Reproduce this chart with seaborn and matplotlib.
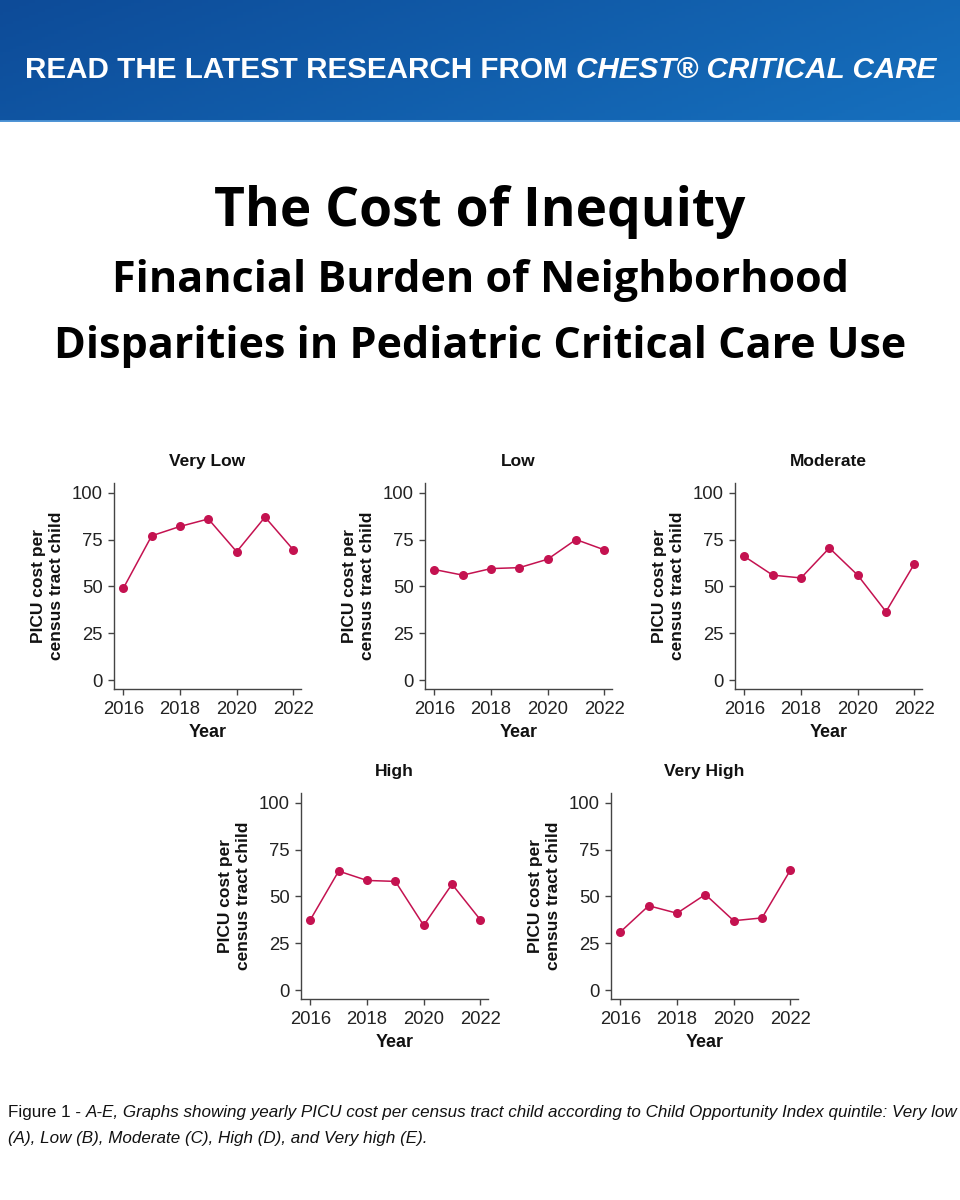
import numpy as np
import pandas as pd
import matplotlib
matplotlib.use('Agg')
import matplotlib.pyplot as plt
import seaborn as sns
from matplotlib import font_manager

# yearly PICU cost per census tract child
years = [2016, 2017, 2018, 2019, 2020, 2021, 2022]
very_low = [49, 77, 82, 86, 68.5, 87, 69.5]
low = [59, 56, 59.5, 60, 64.5, 75, 69.5]
moderate = [66, 56, 54.5, 70.5, 56, 36.5, 62]
high = [37.5, 63.5, 58.5, 58, 34.5, 56.5, 37.5]
very_high = [31, 45, 41, 51, 37, 38.5, 64]
quintiles = ['Very Low', 'Low', 'Moderate', 'High', 'Very High']
y_ticks = [0, 25, 50, 75, 100]
x_ticks = [2016, 2018, 2020, 2022]

df = pd.DataFrame({
    'Year': years * 5,
    'Cost': very_low + low + moderate + high + very_high,
    'Quintile': np.repeat(quintiles, len(years)),
})

sns.set_style('ticks')
plt.rcParams['font.family'] = ['Liberation Sans', 'DejaVu Sans']

installed = {f.name for f in font_manager.fontManager.ttflist}
narrow = 'Liberation Sans Narrow' if 'Liberation Sans Narrow' in installed else 'Liberation Sans'
head_font = 'Open Sans' if 'Open Sans' in installed else 'DejaVu Sans'

W, H = 960, 1200
fig = plt.figure(figsize=(9.6, 12), dpi=100)
fig.patch.set_facecolor('white')
renderer = fig.canvas.get_renderer()


def fit_width(t, width_px):
    w = t.get_window_extent(renderer).width
    t.set_fontsize(t.get_fontsize() * width_px / w)
    return t


# blue banner with diagonal gradient
banner = fig.add_axes([0, 1 - 122 / H, 1, 122 / H])
gx, gy = np.meshgrid(np.linspace(0, 1, 300), np.linspace(0, 1, 40))
grad = 0.75 * gx + 0.25 * gy
c0 = np.array([13, 75, 152]) / 255
c1 = np.array([22, 112, 190]) / 255
img = c0 + (c1 - c0) * grad[..., None]
banner.imshow(img, aspect='auto', extent=[0, 1, 0, 1], origin='upper')
banner.axhline(0.01, color='#4f95d6', lw=2)
banner.set_xlim(0, 1)
banner.set_ylim(0, 1)
banner.axis('off')

# banner text: upright part then italic part
base_y = 1 - 78 / H
t1 = fig.text(25 / W, base_y, 'READ THE LATEST RESEARCH FROM', color='white',
              fontsize=24, fontweight='bold', family=narrow, va='baseline')
t2 = fig.text(0, base_y, 'CHEST® CRITICAL CARE', color='white',
              fontsize=24, fontweight='bold', fontstyle='italic', family=narrow, va='baseline')
w1 = t1.get_window_extent(renderer).width
w2 = t2.get_window_extent(renderer).width
gap = 0.28 * 24 * 100 / 72
scale = 912 / (w1 + w2 + gap)
t1.set_fontsize(24 * scale)
t2.set_fontsize(24 * scale)
w1 = t1.get_window_extent(renderer).width
t2.set_x((25 + w1 + gap * scale) / W)

# headline
fit_width(fig.text(0.5, 1 - 226 / H, 'The Cost of Inequity', ha='center', va='baseline',
                   fontsize=36, fontweight='bold', family=head_font, color='black'), 532)
fit_width(fig.text(0.5, 1 - 292 / H, 'Financial Burden of Neighborhood', ha='center', va='baseline',
                   fontsize=30, fontweight='bold', family=head_font, color='black'), 738)
fit_width(fig.text(0.5, 1 - 358 / H, 'Disparities in Pediatric Critical Care Use', ha='center',
                   va='baseline', fontsize=30, fontweight='bold', family=head_font, color='black'), 852)

# panel positions in pixels: left, top
boxes = [(114, 483), (425, 483), (735, 483), (301, 793), (611, 793)]
line_color = '#c41250'

for name, (left, top) in zip(quintiles, boxes):
    ax = fig.add_axes([left / W, 1 - (top + 206) / H, 187 / W, 206 / H])
    sub = df[df['Quintile'] == name]
    sns.lineplot(data=sub, x='Year', y='Cost', ax=ax, color=line_color, marker='o',
                 markersize=6.5, markeredgewidth=0, linewidth=1.1)
    ax.set_xlim(2015.67, 2022.27)
    ax.set_ylim(-4.8, 105.2)
    ax.set_xticks(x_ticks)
    ax.set_yticks(y_ticks)
    sns.despine(ax=ax)
    for s in ['left', 'bottom']:
        ax.spines[s].set_color('#444444')
        ax.spines[s].set_linewidth(1.0)
    ax.tick_params(axis='both', labelsize=13.3, colors='#444444', labelcolor='#222222',
                   length=4, width=1.0)
    ax.tick_params(axis='x', pad=5)
    ax.tick_params(axis='y', pad=4)
    ax.set_title(name, fontsize=12.5, fontweight='bold', pad=12, color='#111111')
    ax.set_xlabel('Year', fontsize=13, fontweight='bold', labelpad=4, color='#111111')
    ax.set_ylabel('PICU cost per\ncensus tract child', fontsize=12.5, fontweight='bold',
                  labelpad=6, color='#111111', linespacing=1.2)

# caption
cap_y = 1 - 1117 / H
c1 = fig.text(8 / W, cap_y, 'Figure 1 - ', fontsize=12, family=narrow, va='baseline', color='#111111')
c2 = fig.text(0, cap_y, 'A-E, Graphs showing yearly PICU cost per census tract child according '
              'to Child Opportunity Index quintile: Very low', fontsize=12, family=narrow,
              fontstyle='italic', va='baseline', color='#111111')
cw1 = c1.get_window_extent(renderer).width
cw2 = c2.get_window_extent(renderer).width
cs = 12 * 944 / (cw1 + cw2)
c1.set_fontsize(cs)
c2.set_fontsize(cs)
cw1 = c1.get_window_extent(renderer).width
c2.set_x((8 + cw1) / W)
fig.text(8 / W, 1 - 1143 / H, '(A), Low (B), Moderate (C), High (D), and Very high (E).',
         fontsize=cs, family=narrow, fontstyle='italic', va='baseline', color='#111111')

fig.savefig('out.png', dpi=100)
